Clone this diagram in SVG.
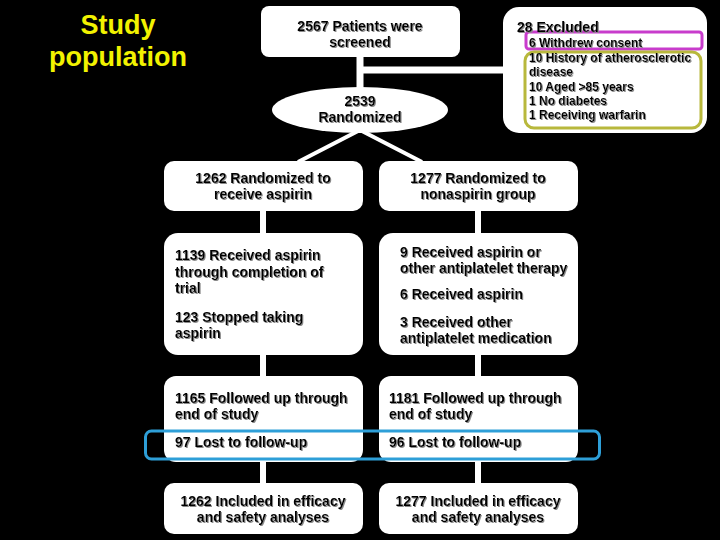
<svg xmlns="http://www.w3.org/2000/svg" width="720" height="540" viewBox="0 0 720 540">
<defs>
<filter id="sh" x="-5%" y="-20%" width="110%" height="140%">
<feDropShadow dx="1" dy="1" stdDeviation="0.4" flood-color="#8a8a8a" flood-opacity="1"/>
</filter>
<style>
.box{fill:#ffffff;stroke:none}
.t{font-family:"Liberation Sans",Arial,sans-serif;font-weight:bold;font-size:14px;fill:#000000}
.s{font-size:12px}
.c{text-anchor:middle}
.con{stroke:#ffffff;fill:none}
.title{font-family:"Liberation Sans",Arial,sans-serif;font-weight:bold;font-size:27px;fill:#f2f200;text-anchor:middle}
</style>
</defs>
<rect x="0" y="0" width="720" height="540" fill="#000000"/>
<g id="title">
<text class="title" x="118" y="34">Study</text>
<text class="title" x="118" y="66">population</text>
</g>
<g id="connectors">
<line class="con" x1="360" y1="57" x2="360" y2="88" stroke-width="7"/>
<line class="con" x1="360" y1="70" x2="504" y2="70" stroke-width="7"/>
<polyline class="con" points="298,162 360,130 422,162" stroke-width="4"/>
<line class="con" x1="263" y1="211" x2="263" y2="233" stroke-width="6"/>
<line class="con" x1="478" y1="211" x2="478" y2="233" stroke-width="6"/>
<line class="con" x1="263" y1="355" x2="263" y2="376" stroke-width="6"/>
<line class="con" x1="478" y1="355" x2="478" y2="376" stroke-width="6"/>
<line class="con" x1="263" y1="462" x2="263" y2="483" stroke-width="6"/>
<line class="con" x1="478" y1="462" x2="478" y2="483" stroke-width="6"/>
</g>
<g id="screened">
<rect class="box" x="261" y="6" width="199" height="51" rx="8"/>
<g filter="url(#sh)">
<text class="t c" x="360" y="31">2567 Patients were</text>
<text class="t c" x="360" y="47">screened</text>
</g>
</g>
<g id="excluded">
<rect class="box" x="503" y="7" width="204" height="126" rx="16"/>
<rect x="526" y="32" width="176" height="17" rx="3" fill="none" stroke="#c83ccc" stroke-width="3"/>
<rect x="525" y="52" width="176" height="76" rx="9" fill="none" stroke="#b8b83c" stroke-width="3"/>
<g filter="url(#sh)">
<text class="t" x="517" y="32">28 Excluded</text>
<text class="t s" x="529" y="47">6 Withdrew consent</text>
<text class="t s" x="529" y="61.5">10 History of atherosclerotic</text>
<text class="t s" x="529" y="76">disease</text>
<text class="t s" x="529" y="90.5">10 Aged &gt;85 years</text>
<text class="t s" x="529" y="105">1 No diabetes</text>
<text class="t s" x="529" y="119">1 Receiving warfarin</text>
</g>
</g>
<g id="randomized">
<ellipse class="box" cx="360" cy="110" rx="88" ry="23"/>
<g filter="url(#sh)">
<text class="t c" x="360" y="106">2539</text>
<text class="t c" x="360" y="122">Randomized</text>
</g>
</g>
<g id="aspirin-group">
<rect class="box" x="164" y="161" width="199" height="50" rx="10"/>
<g filter="url(#sh)">
<text class="t c" x="263" y="183">1262 Randomized to</text>
<text class="t c" x="263" y="199">receive aspirin</text>
</g>
</g>
<g id="nonaspirin-group">
<rect class="box" x="379" y="161" width="199" height="50" rx="10"/>
<g filter="url(#sh)">
<text class="t c" x="478" y="183">1277 Randomized to</text>
<text class="t c" x="478" y="199">nonaspirin group</text>
</g>
</g>
<g id="aspirin-adherence">
<rect class="box" x="164" y="233" width="199" height="122" rx="14"/>
<g filter="url(#sh)">
<text class="t" x="175" y="260">1139 Received aspirin</text>
<text class="t" x="175" y="277">through completion of</text>
<text class="t" x="175" y="293">trial</text>
<text class="t" x="175" y="322">123 Stopped taking</text>
<text class="t" x="175" y="338">aspirin</text>
</g>
</g>
<g id="nonaspirin-adherence">
<rect class="box" x="379" y="233" width="199" height="122" rx="14"/>
<g filter="url(#sh)">
<text class="t" x="400" y="257">9 Received aspirin or</text>
<text class="t" x="400" y="273">other antiplatelet therapy</text>
<text class="t" x="400" y="299">6 Received aspirin</text>
<text class="t" x="400" y="327">3 Received other</text>
<text class="t" x="400" y="343">antiplatelet medication</text>
</g>
</g>
<g id="aspirin-followup">
<rect class="box" x="164" y="376" width="199" height="86" rx="12"/>
<g filter="url(#sh)">
<text class="t" x="175" y="403">1165 Followed up through</text>
<text class="t" x="175" y="419">end of study</text>
<text class="t" x="175" y="447">97 Lost to follow-up</text>
</g>
</g>
<g id="nonaspirin-followup">
<rect class="box" x="379" y="376" width="199" height="86" rx="12"/>
<g filter="url(#sh)">
<text class="t" x="389" y="403">1181 Followed up through</text>
<text class="t" x="389" y="419">end of study</text>
<text class="t" x="389" y="447">96 Lost to follow-up</text>
</g>
</g>
<g id="lost-highlight">
<rect x="145.5" y="431" width="454" height="28" rx="6" fill="none" stroke="#2e9fd8" stroke-width="3"/>
</g>
<g id="aspirin-analysis">
<rect class="box" x="164" y="483" width="199" height="51" rx="10"/>
<g filter="url(#sh)">
<text class="t c" x="263" y="506">1262 Included in efficacy</text>
<text class="t c" x="263" y="522">and safety analyses</text>
</g>
</g>
<g id="nonaspirin-analysis">
<rect class="box" x="379" y="483" width="199" height="51" rx="10"/>
<g filter="url(#sh)">
<text class="t c" x="478" y="506">1277 Included in efficacy</text>
<text class="t c" x="478" y="522">and safety analyses</text>
</g>
</g>
</svg>
